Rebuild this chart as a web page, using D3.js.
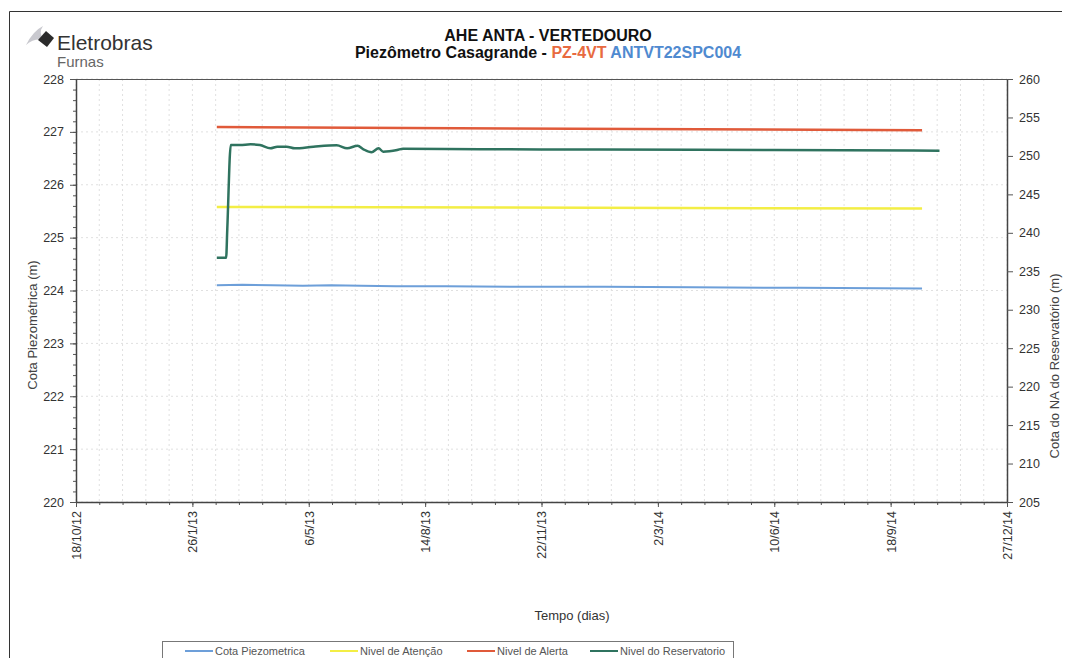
<!DOCTYPE html>
<html>
<head>
<meta charset="utf-8">
<script src="https://cdn.jsdelivr.net/npm/d3@7"></script>
<style>
  body { margin: 0; background: #fff; }
  text { font-family: "Liberation Sans", Arial, sans-serif; }
</style>
</head>
<body>
<script>
// data
var xTickDays = [0, 100, 200, 300, 400, 500, 600, 700, 800]; // days after 18/10/12
var leftTicks = [220, 221, 222, 223, 224, 225, 226, 227, 228];
var rightTicks = [205, 210, 215, 220, 225, 230, 235, 240, 245, 250, 255, 260];

var piezoDates = ["2013-02-16", "2013-03-10", "2013-04-05", "2013-05-01", "2013-05-25", "2013-06-20",
    "2013-07-20", "2013-09-01", "2013-11-01", "2014-01-15", "2014-04-01", "2014-07-01", "2014-10-15"];
var piezoValues = [224.10, 224.11, 224.10, 224.09, 224.10, 224.09, 224.08, 224.08, 224.07, 224.07, 224.06, 224.05, 224.04];

var atencaoDates = ["2013-02-16", "2014-10-15"];
var atencaoValues = [225.58, 225.55];

var alertaDates = ["2013-02-16", "2014-10-15"];
var alertaValues = [227.09, 227.03];

var reservDates = ["2013-02-16", "2013-02-24", "2013-02-25", "2013-02-28", "2013-03-08", "2013-03-17",
    "2013-03-25", "2013-04-03", "2013-04-09", "2013-04-17", "2013-04-24", "2013-05-10", "2013-05-30",
    "2013-06-08", "2013-06-17", "2013-06-22", "2013-06-29", "2013-07-05", "2013-07-09", "2013-07-21",
    "2013-07-26", "2013-09-30", "2014-01-11", "2014-06-10", "2014-10-30"];
var reservValues = [236.76, 236.76, 240.5, 251.42, 251.42, 251.51, 251.42, 250.99, 251.20, 251.20,
    250.99, 251.20, 251.38, 250.99, 251.33, 250.86, 250.47, 250.99, 250.55, 250.77,
    250.94, 250.86, 250.83, 250.77, 250.68];

var legendNames = ["Cota Piezometrica", "Nivel de Atenção", "Nivel de Alerta", "Nivel do Reservatorio"];
var colors = ["#6d9fd9", "#f3ee45", "#e05a3a", "#2f735f"];

var W = 1068, H = 658;
var plot = { left: 76, right: 1007, top: 79, bottom: 502 };

var parse = d3.timeParse("%Y-%m-%d");
var start = parse("2012-10-18");

var svg = d3.select("body").append("svg")
    .attr("width", W)
    .attr("height", H);

var x = d3.scaleTime()
    .domain([start, d3.timeDay.offset(start, 800)])
    .range([plot.left, plot.right]);
var yL = d3.scaleLinear().domain([220, 228]).range([plot.bottom, plot.top]);
var yR = d3.scaleLinear().domain([205, 260]).range([plot.bottom, plot.top]);

// outer frame
svg.append("path")
    .attr("d", "M9.5," + H + "V11.5H1062")
    .attr("fill", "none")
    .attr("stroke", "#333")
    .attr("stroke-width", 1);

// grid
var minorDays = d3.range(0, 801, 20).map(function(d) { return d3.timeDay.offset(start, d); });
svg.append("g").selectAll("line")
    .data(minorDays)
    .enter().append("line")
    .attr("x1", function(d) { return x(d); })
    .attr("x2", function(d) { return x(d); })
    .attr("y1", plot.top)
    .attr("y2", plot.bottom)
    .attr("stroke", "#e0e0e0")
    .attr("stroke-dasharray", "2,3");
svg.append("g").selectAll("line")
    .data(leftTicks)
    .enter().append("line")
    .attr("x1", plot.left)
    .attr("x2", plot.right)
    .attr("y1", function(d) { return yL(d); })
    .attr("y2", function(d) { return yL(d); })
    .attr("stroke", "#e0e0e0")
    .attr("stroke-dasharray", "2,3");

// plot frame top
svg.append("line")
    .attr("x1", plot.left).attr("x2", plot.right)
    .attr("y1", plot.top + 0.5).attr("y2", plot.top + 0.5)
    .attr("stroke", "#555");

// axes
var xMajor = xTickDays.map(function(d) { return d3.timeDay.offset(start, d); });
var fmt = d3.timeFormat("%-d/%-m/%y");

var gxMinor = svg.append("g")
    .attr("transform", "translate(0," + plot.bottom + ")")
    .call(d3.axisBottom(x).tickValues(minorDays).tickSize(3).tickFormat(""));
gxMinor.select(".domain").remove();

var gx = svg.append("g")
    .attr("transform", "translate(0," + plot.bottom + ")")
    .call(d3.axisBottom(x).tickValues(xMajor).tickSize(5).tickSizeOuter(0).tickFormat(fmt));
gx.selectAll("text")
    .attr("transform", "rotate(-90)")
    .attr("text-anchor", "end")
    .attr("x", -9)
    .attr("y", 0)
    .attr("dy", "0.35em")
    .attr("font-size", 12.5)
    .attr("fill", "#333");

var gyMinor = svg.append("g")
    .attr("transform", "translate(" + plot.left + ",0)")
    .call(d3.axisLeft(yL).tickValues(d3.range(220, 228.01, 0.2)).tickSize(3).tickFormat(""));
gyMinor.select(".domain").remove();

var gy = svg.append("g")
    .attr("transform", "translate(" + plot.left + ",0)")
    .call(d3.axisLeft(yL).tickValues(leftTicks).tickSize(6).tickSizeOuter(0).tickFormat(d3.format("d")));
gy.selectAll("text").attr("font-size", 12.5).attr("fill", "#333").attr("x", -12);

var gyR = svg.append("g")
    .attr("transform", "translate(" + plot.right + ",0)")
    .call(d3.axisRight(yR).tickValues(rightTicks).tickSize(6).tickSizeOuter(0).tickFormat(d3.format("d")));
gyR.selectAll("text").attr("font-size", 12.5).attr("fill", "#333").attr("x", 12);

svg.selectAll(".domain").attr("stroke", "#444").attr("stroke-width", 1.5);
svg.selectAll(".tick line").attr("stroke", "#555");

// series
var lineL = d3.line()
    .x(function(d) { return x(d.date); })
    .y(function(d) { return yL(d.value); });
var lineR = d3.line()
    .curve(d3.curveMonotoneX)
    .x(function(d) { return x(d.date); })
    .y(function(d) { return yR(d.value); });

function zip(dates, values) {
    return dates.map(function(d, i) { return { date: parse(d), value: values[i] }; });
}

svg.append("path").datum(zip(alertaDates, alertaValues))
    .attr("d", lineL).attr("fill", "none").attr("stroke", colors[2]).attr("stroke-width", 2.5);
svg.append("path").datum(zip(atencaoDates, atencaoValues))
    .attr("d", lineL).attr("fill", "none").attr("stroke", colors[1]).attr("stroke-width", 2.5);
svg.append("path").datum(zip(piezoDates, piezoValues))
    .attr("d", lineL).attr("fill", "none").attr("stroke", colors[0]).attr("stroke-width", 2);
svg.append("path").datum(zip(reservDates, reservValues))
    .attr("d", lineR).attr("fill", "none").attr("stroke", colors[3]).attr("stroke-width", 2.5)
    .attr("stroke-linejoin", "round");

// titles
svg.append("text")
    .attr("x", 548).attr("y", 41)
    .attr("text-anchor", "middle")
    .attr("font-size", 16).attr("font-weight", "bold").attr("fill", "#111")
    .text("AHE ANTA - VERTEDOURO");
var sub = svg.append("text")
    .attr("x", 548).attr("y", 58)
    .attr("text-anchor", "middle")
    .attr("font-size", 16).attr("font-weight", "bold").attr("fill", "#111");
sub.append("tspan").text("Piezômetro Casagrande - ");
sub.append("tspan").attr("fill", "#e86a40").text("PZ-4VT");
sub.append("tspan").attr("fill", "#4f8ad0").text(" ANTVT22SPC004");

svg.append("text")
    .attr("x", 572).attr("y", 620)
    .attr("text-anchor", "middle")
    .attr("font-size", 13).attr("fill", "#333")
    .text("Tempo (dias)");
svg.append("text")
    .attr("transform", "translate(37,325) rotate(-90)")
    .attr("text-anchor", "middle")
    .attr("font-size", 13).attr("fill", "#444")
    .text("Cota Piezométrica (m)");
svg.append("text")
    .attr("transform", "translate(1059,366) rotate(-90)")
    .attr("text-anchor", "middle")
    .attr("font-size", 13).attr("fill", "#444")
    .text("Cota do NA do Reservatório (m)");

// logo
svg.append("path")
    .attr("d", "M26,45 Q34,38 44,40 Q38,33 43,26 Q33,31 26,45Z")
    .attr("fill", "#c9c9cf");
svg.append("path")
    .attr("d", "M38,40 L46,31 L54,38 L47,47 Z")
    .attr("fill", "#2b2b2b");
svg.append("text")
    .attr("x", 57).attr("y", 50)
    .attr("font-size", 21).attr("fill", "#333")
    .text("Eletrobras");
svg.append("text")
    .attr("x", 57).attr("y", 67)
    .attr("font-size", 15).attr("fill", "#666")
    .text("Furnas");

// legend
svg.append("rect")
    .attr("x", 162.5).attr("y", 641.5)
    .attr("width", 571).attr("height", 30)
    .attr("fill", "#fff").attr("stroke", "#777");
var legendX = [185, 330, 467, 590];
var lg = svg.append("g").selectAll("g")
    .data(legendNames)
    .enter().append("g")
    .attr("transform", function(d, i) { return "translate(" + legendX[i] + ",651)"; });
lg.append("line")
    .attr("x1", 0).attr("x2", 28)
    .attr("stroke", function(d, i) { return colors[i]; })
    .attr("stroke-width", 2);
lg.append("text")
    .attr("x", 30).attr("dy", "0.35em")
    .attr("font-size", 11).attr("fill", "#555")
    .text(function(d) { return d; });
</script>
</body>
</html>
